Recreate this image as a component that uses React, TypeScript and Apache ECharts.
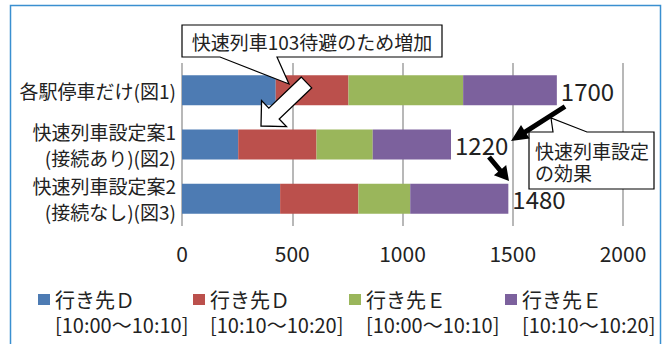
import React, { useEffect, useRef } from "react";
import * as echarts from "echarts";

// Passenger counts per train stop pattern, split by destination and time window
const categories = [
  "各駅停車だけ(図1)",
  "快速列車設定案1\n(接続あり)(図2)",
  "快速列車設定案2\n(接続なし)(図3)",
];
const seriesNames = [
  "行き先Ｄ\n[10:00～10:10]",
  "行き先Ｄ\n[10:10～10:20]",
  "行き先Ｅ\n[10:00～10:10]",
  "行き先Ｅ\n[10:10～10:20]",
];
const destD1 = [425, 255, 445];
const destD2 = [330, 355, 355];
const destE1 = [520, 255, 235];
const destE2 = [425, 355, 445];
const xTicks = [0, 500, 1000, 1500, 2000];

const colors = ["#4d7bb3", "#bb504c", "#9ab65b", "#7c619d"];
const FONT = "'Noto Sans CJK JP', 'Noto Sans', sans-serif";
const TEXT = "#222";

// Legend swatch sitting at the top of a two-line entry
const LEGEND_ICON = "path://M0,0H12V11H0Z M0,36L0.01,36L0.01,36.01Z";

type Pt = [number, number];

// Block arrow outline from start to tip
function arrowPoints(start: Pt, tip: Pt, shaftW: number, headW: number, headL: number): Pt[] {
  const dx = tip[0] - start[0];
  const dy = tip[1] - start[1];
  const len = Math.hypot(dx, dy);
  const ux = dx / len;
  const uy = dy / len;
  const px = -uy;
  const py = ux;
  const bx = tip[0] - ux * headL;
  const by = tip[1] - uy * headL;
  const s = shaftW / 2;
  const h = headW / 2;
  return [
    [start[0] + px * s, start[1] + py * s],
    [bx + px * s, by + py * s],
    [bx + px * h, by + py * h],
    tip,
    [bx - px * h, by - py * h],
    [bx - px * s, by - py * s],
    [start[0] - px * s, start[1] - py * s],
  ];
}

export default function App() {
  const ref = useRef<HTMLDivElement>(null);

  useEffect(() => {
    if (!ref.current) return;
    const chart = echarts.init(ref.current, null, { renderer: "svg" });
    const stacks = [destD1, destD2, destE1, destE2];
    const totals = categories.map((_, i) => stacks.reduce((acc, s) => acc + s[i], 0));
    const legendLefts = [38, 193, 349, 505];

    chart.setOption({
      animation: false,
      grid: { left: 182, right: 42, top: 63, bottom: 118, containLabel: false },
      xAxis: {
        type: "value",
        min: xTicks[0],
        max: xTicks[xTicks.length - 1],
        interval: xTicks[1] - xTicks[0],
        axisLine: { show: false },
        axisTick: { show: false },
        splitLine: { show: true, lineStyle: { color: "#a0a0a0", width: 1.5 } },
        axisLabel: {
          fontSize: 21,
          color: TEXT,
          fontFamily: FONT,
          margin: 16,
          formatter: (v: number) => String(v),
        },
      },
      yAxis: {
        type: "category",
        data: categories,
        inverse: true,
        axisLine: { show: false },
        axisTick: { show: false },
        axisLabel: { fontSize: 19, lineHeight: 26, color: TEXT, fontFamily: FONT, margin: 6 },
      },
      legend: seriesNames.map((name, i) => ({
        data: [name],
        left: legendLefts[i],
        top: 287,
        padding: 0,
        icon: LEGEND_ICON,
        itemWidth: 12,
        itemHeight: 36,
        itemGap: 0,
        selectedMode: false,
        textStyle: {
          fontSize: 20,
          lineHeight: 25,
          color: TEXT,
          fontFamily: FONT,
        },
      })),
      series: stacks.map((values, i) => ({
        name: seriesNames[i],
        type: "bar",
        stack: "total",
        data: values,
        barWidth: 30,
        itemStyle: { color: colors[i] },
        label:
          i === stacks.length - 1
            ? {
                show: true,
                position: "right",
                distance: 4,
                fontSize: 24,
                color: TEXT,
                fontFamily: FONT,
                formatter: (p: any) => String(totals[p.dataIndex]),
              }
            : { show: false },
      })),
      graphic: [
        {
          type: "rect",
          z: 100,
          silent: true,
          shape: { x: 10.5, y: 5.5, width: 650, height: 345 },
          style: { fill: "none", stroke: "#3a8fd0", lineWidth: 1.5 },
        },
        // callout: increase caused by waiting for rapid 103
        {
          type: "polygon",
          z: 100,
          shape: {
            points: [
              [182, 25],
              [442, 25],
              [442, 57],
              [277, 57],
              [289, 84],
              [220, 57],
              [182, 57],
            ],
          },
          style: { fill: "#fff", stroke: "#000", lineWidth: 1.2 },
        },
        {
          type: "text",
          z: 101,
          x: 312,
          y: 41,
          style: {
            text: "快速列車103待避のため増加",
            fontSize: 19,
            fontFamily: FONT,
            fill: TEXT,
            align: "center",
            verticalAlign: "middle",
          },
        },
        {
          type: "polygon",
          z: 100,
          shape: { points: arrowPoints([306.5, 82.5], [261, 126], 15, 36, 18) },
          style: { fill: "#fff", stroke: "#000", lineWidth: 1.3 },
        },
        // callout: effect of adding the rapid train
        {
          type: "polygon",
          z: 100,
          shape: {
            points: [
              [529, 132],
              [553, 132],
              [551, 118],
              [587, 132],
              [654, 132],
              [654, 189],
              [529, 189],
            ],
          },
          style: { fill: "#fff", stroke: "#000", lineWidth: 1.2 },
        },
        {
          type: "text",
          z: 101,
          x: 535,
          y: 161,
          style: {
            text: "快速列車設定\nの効果",
            fontSize: 19,
            lineHeight: 22,
            fontFamily: FONT,
            fill: TEXT,
            align: "left",
            verticalAlign: "middle",
          },
        },
        {
          type: "polygon",
          z: 100,
          shape: { points: arrowPoints([565, 106.5], [511, 141], 5, 16, 17) },
          style: { fill: "#000" },
        },
        {
          type: "polygon",
          z: 100,
          shape: { points: arrowPoints([489, 157], [509, 181], 5, 16, 14) },
          style: { fill: "#000" },
        },
      ],
    });

    return () => chart.dispose();
  }, []);

  return (
    <div
      ref={ref}
      style={{ position: "fixed", left: 0, top: 0, width: 665, height: 344, background: "#fff" }}
    />
  );
}
